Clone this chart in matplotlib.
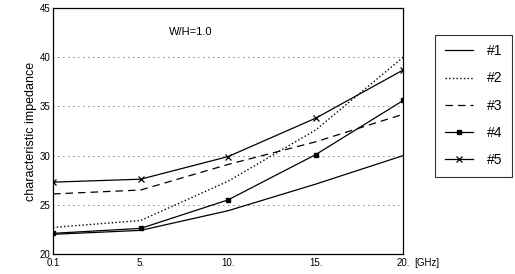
import matplotlib
matplotlib.use("Agg")
import matplotlib.pyplot as plt

plt.rcParams['font.family'] = ['Liberation Sans', 'DejaVu Sans']

# frequencies (GHz) - plotted at evenly spaced positions like the original
freq_labels = ['0.1', '5.', '10.', '15.', '20.']
pos = [0, 1, 2, 3, 4]

z1 = [22.0, 22.4, 24.4, 27.1, 30.0]
z2 = [22.7, 23.4, 27.4, 32.6, 40.0]
z3 = [26.1, 26.5, 29.1, 31.4, 34.2]
z4 = [22.1, 22.6, 25.5, 30.1, 35.6]
z5 = [27.3, 27.6, 29.9, 33.8, 38.7]

fig = plt.figure(figsize=(5.15, 2.74), dpi=100)
ax = fig.add_axes([0.103, 0.073, 0.680, 0.898])

ax.plot(pos, z1, '-', color='black', lw=0.9, label='#1')
ax.plot(pos, z2, ':', color='black', lw=1.0, label='#2')
ax.plot(pos, z3, '--', color='black', lw=0.9, dashes=(6, 4), label='#3')
ax.plot(pos, z4, '-', color='black', lw=0.9, marker='s', ms=3.5, label='#4')
ax.plot(pos, z5, '-', color='black', lw=0.9, marker='x', ms=5, mew=0.9, label='#5')

ax.set_xlim(0, 4)
ax.set_ylim(20, 45)
ax.set_xticks(pos)
ax.set_xticklabels(freq_labels, fontsize=7)
ax.set_yticks([20, 25, 30, 35, 40, 45])
ax.tick_params(axis='y', labelsize=7, length=0, pad=2)
ax.tick_params(axis='x', length=0, pad=3)
ax.text(4.12, -0.017, '[GHz]', fontsize=7, transform=ax.get_xaxis_transform(),
        va='top', ha='left')
ax.set_ylabel('characteristic impedance', fontsize=9, labelpad=2)

for y in [25, 30, 35, 40]:
    ax.axhline(y, color='black', lw=0.6, ls=(0, (1, 5)))

ax.text(1.32, 42.3, 'W/H=1.0', fontsize=8)

for s in ax.spines.values():
    s.set_linewidth(0.9)

leg = ax.legend(loc='upper left', bbox_to_anchor=(1.071, 0.92), frameon=True,
                fancybox=False, edgecolor='black', fontsize=10, handlelength=2.0,
                labelspacing=0.95, borderpad=0.7, handletextpad=1.0)
leg.get_frame().set_linewidth(0.8)

fig.savefig('out.png', dpi=100)
